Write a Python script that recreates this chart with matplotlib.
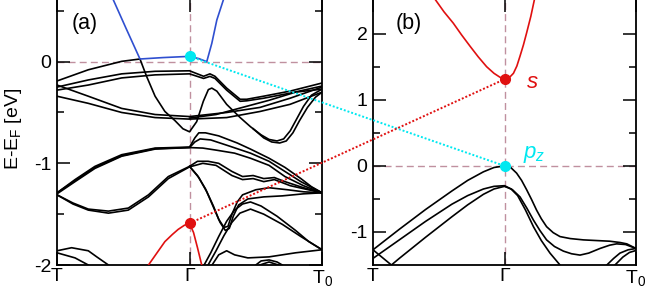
import numpy as np
import matplotlib
matplotlib.use('Agg')
import matplotlib.pyplot as plt
from matplotlib.lines import Line2D

plt.rcParams['font.family'] = ['Liberation Sans', 'DejaVu Sans']
plt.rcParams['mathtext.fontset'] = 'custom'
plt.rcParams['mathtext.rm'] = 'Liberation Sans'
plt.rcParams['mathtext.it'] = 'Liberation Sans:italic'
plt.rcParams['mathtext.default'] = 'regular'
plt.rcParams['axes.unicode_minus'] = False

# k path: T = 0, Gamma = 0.5, T0 = 1
kticks = [0, 0.5, 1]
klabels = ['T', 'Γ', 'T$_0$']

# ---- panel (a): bands, (k, E) ----
blue_k = [0.212, 0.26, 0.313, 0.4, 0.5, 0.535, 0.565, 0.584, 0.603, 0.628]
blue_e = [0.61, 0.33, 0.026, 0.04, 0.052, 0.03, 0.0, 0.18, 0.41, 0.61]

red_a_k = [0.345, 0.38, 0.407, 0.435, 0.457, 0.48, 0.5, 0.515, 0.53, 0.546]
red_a_e = [-2.0, -1.87, -1.77, -1.7, -1.65, -1.61, -1.59, -1.68, -1.83, -2.0]

# top group, T -> Gamma -> T0
a1_k = [0.0, 0.118, 0.244, 0.313, 0.338, 0.37, 0.407, 0.445, 0.475, 0.5, 0.527, 0.552, 0.571, 0.584, 0.603, 0.64, 0.691, 0.73, 0.77, 0.8, 0.83, 0.855, 0.88, 0.905, 0.93, 0.96, 1.0]
a1_e = [-0.19, -0.08, 0.003, 0.026, -0.145, -0.34, -0.49, -0.58, -0.66, -0.69, -0.59, -0.39, -0.275, -0.26, -0.29, -0.42, -0.55, -0.64, -0.72, -0.765, -0.78, -0.76, -0.68, -0.56, -0.44, -0.33, -0.27]
a1b_k = [0.74, 0.78, 0.81, 0.84, 0.865, 0.89, 0.915, 0.945, 0.975, 1.0]
a1b_e = [-0.66, -0.75, -0.79, -0.8, -0.78, -0.7, -0.58, -0.45, -0.35, -0.3]
a2_k = [0.0, 0.118, 0.244, 0.37, 0.5, 0.553, 0.577, 0.596, 0.64, 0.691, 0.716, 0.779, 0.879, 1.0]
a2_e = [-0.25, -0.18, -0.12, -0.095, -0.09, -0.144, -0.12, -0.144, -0.26, -0.37, -0.37, -0.34, -0.29, -0.21]
a3_k = [0.0, 0.118, 0.244, 0.37, 0.5, 0.553, 0.577, 0.596, 0.64, 0.691, 0.716, 0.779, 0.879, 1.0]
a3_e = [-0.28, -0.23, -0.16, -0.13, -0.12, -0.165, -0.145, -0.165, -0.28, -0.39, -0.385, -0.36, -0.31, -0.24]
a4_k = [0.0, 0.118, 0.244, 0.37, 0.5, 0.64, 0.766, 0.879, 1.0]
a4_e = [-0.23, -0.34, -0.46, -0.52, -0.54, -0.5, -0.45, -0.36, -0.25]
a5_k = [0.0, 0.118, 0.244, 0.37, 0.5, 0.64, 0.766, 0.879, 1.0]
a5_e = [-0.34, -0.41, -0.5, -0.55, -0.565, -0.55, -0.49, -0.42, -0.30]
a6_k = [0.5, 0.6, 0.7, 0.8, 0.9, 1.0]
a6_e = [-0.555, -0.52, -0.45, -0.38, -0.30, -0.27]

# middle group
m1_k = [0.0, 0.068, 0.143, 0.244, 0.37, 0.5, 0.52, 0.535, 0.56, 0.61, 0.68, 0.73, 0.8, 0.86, 0.92, 0.96, 1.0]
m1_e = [-1.29, -1.16, -1.03, -0.915, -0.85, -0.84, -0.75, -0.70, -0.70, -0.73, -0.80, -0.86, -0.95, -1.04, -1.15, -1.23, -1.29]
m2_k = [0.0, 0.068, 0.143, 0.244, 0.37, 0.5, 0.52, 0.54, 0.58, 0.65, 0.73, 0.8, 0.86, 0.92, 1.0]
m2_e = [-1.30, -1.18, -1.05, -0.93, -0.86, -0.845, -0.79, -0.76, -0.77, -0.83, -0.9, -0.98, -1.08, -1.18, -1.29]
m3_k = [0.0, 0.068, 0.143, 0.244, 0.37, 0.5, 0.55, 0.6, 0.67, 0.73, 0.8, 0.86, 0.93, 1.0]
m3_e = [-1.29, -1.17, -1.04, -0.925, -0.855, -0.845, -0.85, -0.87, -0.9, -0.95, -1.02, -1.13, -1.22, -1.29]
w1_k = [0.0, 0.06, 0.118, 0.194, 0.269, 0.345, 0.42, 0.5, 0.53, 0.57, 0.61, 0.66, 0.7, 0.74, 0.78, 0.82, 0.86, 0.93, 1.0]
w1_e = [-1.31, -1.39, -1.45, -1.47, -1.44, -1.31, -1.13, -1.03, -0.98, -0.98, -1.0, -1.08, -1.13, -1.12, -1.15, -1.14, -1.18, -1.24, -1.29]
w2_k = [0.0, 0.06, 0.118, 0.194, 0.269, 0.345, 0.42, 0.5, 0.55, 0.6, 0.66, 0.7, 0.74, 0.78, 0.82, 0.88, 1.0]
w2_e = [-1.31, -1.40, -1.46, -1.49, -1.46, -1.33, -1.15, -1.035, -1.0, -1.02, -1.12, -1.16, -1.15, -1.18, -1.16, -1.22, -1.29]
v1_k = [0.5, 0.53, 0.56, 0.59, 0.61, 0.63, 0.645, 0.66, 0.68, 0.7, 0.75, 0.8, 0.87, 0.93, 1.0]
v1_e = [-1.03, -1.12, -1.25, -1.42, -1.55, -1.63, -1.62, -1.5, -1.38, -1.31, -1.26, -1.24, -1.26, -1.28, -1.29]
v2_k = [0.5, 0.535, 0.565, 0.595, 0.615, 0.635, 0.65, 0.665, 0.685, 0.72, 0.78, 0.85, 0.93, 1.0]
v2_e = [-1.03, -1.14, -1.28, -1.46, -1.58, -1.66, -1.64, -1.52, -1.41, -1.35, -1.33, -1.32, -1.3, -1.29]

# lower group
r1_k = [0.555, 0.58, 0.61, 0.64, 0.67, 0.7, 0.73, 0.77, 0.83, 0.9, 0.95, 1.0]
r1_e = [-2.0, -1.88, -1.72, -1.57, -1.46, -1.4, -1.38, -1.42, -1.52, -1.66, -1.77, -1.85]
r2_k = [0.57, 0.6, 0.63, 0.66, 0.69, 0.73, 0.78, 0.85, 0.92, 1.0]
r2_e = [-2.0, -1.86, -1.71, -1.58, -1.49, -1.45, -1.5, -1.6, -1.72, -1.85]
r3_k = [0.585, 0.61, 0.64, 0.67, 0.72, 0.8, 0.9, 1.0]
r3_e = [-2.0, -1.9, -1.86, -1.9, -1.93, -1.92, -1.88, -1.85]
arc1_k = [0.75, 0.77, 0.8, 0.83, 0.85]
arc1_e = [-2.0, -1.96, -1.95, -1.97, -2.0]
arc2_k = [0.765, 0.8, 0.835]
arc2_e = [-2.0, -1.97, -2.0]
b1_k = [0.0, 0.055, 0.118, 0.15, 0.194]
b1_e = [-1.86, -1.83, -1.86, -1.92, -2.0]
b2_k = [0.0, 0.068, 0.118]
b2_e = [-1.88, -1.93, -2.0]

# ---- panel (b) ----
red_b_k = [0.236, 0.27, 0.305, 0.337, 0.369, 0.4, 0.432, 0.46, 0.483, 0.5, 0.517, 0.534, 0.547, 0.559, 0.572, 0.584, 0.6, 0.614]
red_b_e = [2.52, 2.33, 2.16, 1.98, 1.81, 1.65, 1.50, 1.40, 1.34, 1.31, 1.33, 1.40, 1.51, 1.66, 1.83, 2.01, 2.26, 2.52]
p1_k = [0.0, 0.1, 0.2, 0.3, 0.36, 0.42, 0.46, 0.5, 0.525, 0.546, 0.565, 0.584, 0.603, 0.622, 0.64, 0.66, 0.685, 0.711, 0.75, 0.8, 0.85, 0.9, 0.94, 0.965, 1.0]
p1_e = [-1.27, -0.96, -0.66, -0.38, -0.22, -0.09, -0.025, 0.0, -0.03, -0.11, -0.22, -0.36, -0.51, -0.67, -0.80, -0.92, -1.01, -1.07, -1.1, -1.12, -1.13, -1.14, -1.16, -1.18, -1.25]
p2_k = [0.0, 0.1, 0.2, 0.3, 0.36, 0.42, 0.46, 0.5, 0.53, 0.559, 0.585, 0.61, 0.635, 0.66, 0.69, 0.724, 0.755, 0.787, 0.82, 0.863, 0.9, 0.926, 0.96, 1.0]
p2_e = [-1.40, -1.12, -0.84, -0.58, -0.45, -0.35, -0.31, -0.30, -0.36, -0.47, -0.64, -0.82, -0.98, -1.12, -1.22, -1.29, -1.33, -1.35, -1.32, -1.25, -1.2, -1.18, -1.19, -1.25]
p3_k = [0.07, 0.1, 0.2, 0.3, 0.36, 0.42, 0.46, 0.5, 0.525, 0.55, 0.58, 0.61, 0.64, 0.673, 0.711]
p3_e = [-1.5, -1.40, -1.08, -0.77, -0.59, -0.43, -0.35, -0.31, -0.35, -0.45, -0.67, -0.92, -1.13, -1.32, -1.5]
p4_k = [0.0, 0.07]
p4_e = [-1.27, -1.5]
p5_k = [0.889, 0.915, 0.939, 0.97, 1.0]
p5_e = [-1.5, -1.4, -1.32, -1.27, -1.25]
p6_k = [0.92, 0.95, 0.975, 1.0]
p6_e = [-1.5, -1.38, -1.31, -1.28]

# dots at Gamma
pz_a, s_a = 0.052, -1.59
pz_b, s_b = 0.0, 1.31

black_a = [(a1_k, a1_e), (a1b_k, a1b_e), (a2_k, a2_e), (a3_k, a3_e), (a4_k, a4_e),
           (a5_k, a5_e), (a6_k, a6_e), (m1_k, m1_e), (m2_k, m2_e), (m3_k, m3_e),
           (w1_k, w1_e), (w2_k, w2_e), (v1_k, v1_e), (v2_k, v2_e), (r1_k, r1_e),
           (r2_k, r2_e), (r3_k, r3_e), (arc1_k, arc1_e), (arc2_k, arc2_e),
           (b1_k, b1_e), (b2_k, b2_e)]
black_b = [(p1_k, p1_e), (p2_k, p2_e), (p3_k, p3_e), (p4_k, p4_e), (p5_k, p5_e), (p6_k, p6_e)]

dash_col = '#c0909f'
red = '#e01010'
cyan = '#00e8f0'
blue = '#2f4fd0'

fig = plt.figure(figsize=(6.48, 2.96), dpi=100)
ax1 = fig.add_axes([0.088, 0.1047, 0.409, 0.9])
ax2 = fig.add_axes([0.5756, 0.1047, 0.4059, 0.9])


def style(ax, ylim, yticks, yminor):
    ax.set_xlim(0, 1)
    ax.set_ylim(*ylim)
    ax.axhline(0, color=dash_col, lw=1, ls=(0, (5, 3)), zorder=1)
    ax.axvline(0.5, color=dash_col, lw=1, ls=(0, (5, 3)), zorder=1)
    ax.set_xticks(kticks)
    ax.set_xticklabels(klabels, fontsize=14)
    ax.set_yticks(yticks)
    ax.set_yticklabels([str(t) for t in yticks], fontsize=14)
    ax.set_yticks(yminor, minor=True)
    ax.tick_params(which='both', direction='in', top=True, right=True, width=1.1)
    ax.tick_params(which='major', length=9.5)
    ax.tick_params(which='minor', length=5)
    ax.tick_params(axis='x', pad=2)
    ax.tick_params(axis='y', pad=4)
    for sp in ax.spines.values():
        sp.set_linewidth(1.3)


style(ax1, (-2, 0.62), [-2, -1, 0], [-1.5, -0.5, 0.5])
style(ax2, (-1.5, 2.53), [-1, 0, 1, 2], [-0.5, 0.5, 1.5])

for k, e in black_a:
    ax1.plot(k, e, color='black', lw=1.2, zorder=2)
ax1.plot(blue_k, blue_e, color=blue, lw=1.2, zorder=3)
ax1.plot(red_a_k, red_a_e, color=red, lw=1.2, zorder=3)
ax1.plot([0.5], [pz_a], 'o', color=cyan, ms=7, zorder=5)
ax1.plot([0.5], [s_a], 'o', color=red, ms=7, zorder=5)

for k, e in black_b:
    ax2.plot(k, e, color='black', lw=1.2, zorder=2)
ax2.plot(red_b_k, red_b_e, color=red, lw=1.2, zorder=3)
ax2.plot([0.5], [pz_b], 'o', color=cyan, ms=7, zorder=5)
ax2.plot([0.5], [s_b], 'o', color=red, ms=7, zorder=5)

ax1.text(0.105, 0.905, '(a)', transform=ax1.transAxes, fontsize=15.5, ha='center', va='center')
ax2.text(0.135, 0.905, '(b)', transform=ax2.transAxes, fontsize=15.5, ha='center', va='center')
ax2.text(0.58, 1.26, '$\\mathit{s}$', color=red, fontsize=16, ha='left', va='center')
ax2.text(0.57, 0.17, '$\\mathit{p_z}$', color=cyan, fontsize=16, ha='left', va='center')

ax1.set_ylabel('E-E$_F$ [eV]', fontsize=14)
ax1.yaxis.set_label_coords(-0.125, 0.51)

# dotted links between the Gamma points of the two panels
to_fig = fig.transFigure.inverted()
for ya, yb, c in [(pz_a, pz_b, cyan), (s_a, s_b, red)]:
    xa, ya_f = to_fig.transform(ax1.transData.transform((0.5, ya)))
    xb, yb_f = to_fig.transform(ax2.transData.transform((0.5, yb)))
    fig.add_artist(Line2D([xa, xb], [ya_f, yb_f], transform=fig.transFigure,
                          color=c, lw=1.4, ls=(0, (1.0, 1.0)), zorder=10))

fig.savefig('out.png', dpi=100)
